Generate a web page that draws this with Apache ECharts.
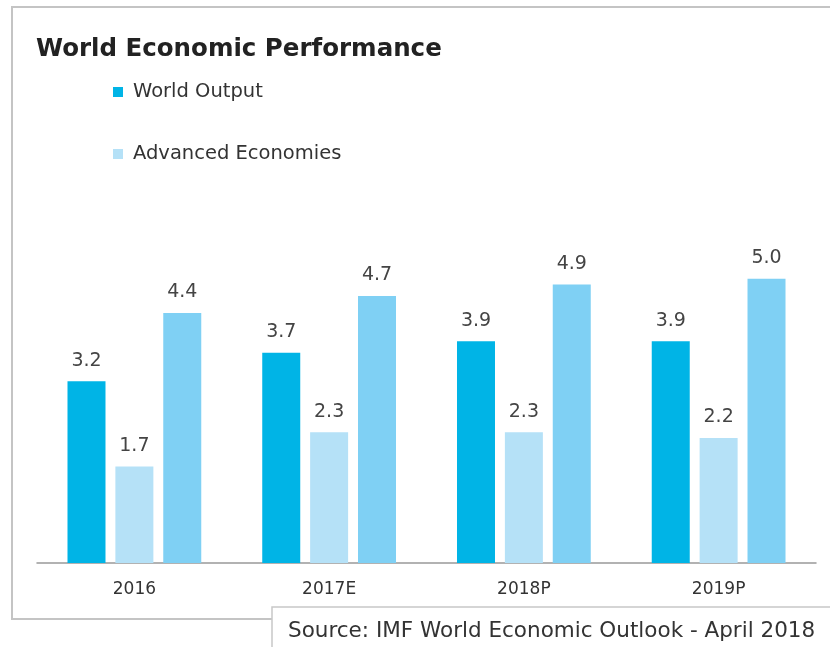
<!DOCTYPE html>
<html>
<head>
<meta charset="utf-8">
<script src="https://cdn.jsdelivr.net/npm/echarts@6/dist/echarts.min.js"></script>
<style>
  html, body { margin: 0; padding: 0; background: #fff; }
  #chart { width: 830px; height: 647px; }
</style>
</head>
<body>
<div id="chart"></div>
<script>
// data
const categories = ['2016', '2017E', '2018P', '2019P'];
const worldOutput = [3.2, 3.7, 3.9, 3.9];
const advancedEconomies = [1.7, 2.3, 2.3, 2.2];
const emergingEconomies = [4.4, 4.7, 4.9, 5.0];

const dom = document.getElementById('chart');
const myChart = echarts.init(dom);

const labelStyle = {
    show: true,
    position: 'top',
    distance: 11,
    color: '#444',
    fontSize: 19,
    fontFamily: 'DejaVu Sans',
    formatter: function (p) { return p.value.toFixed(1); }
};

const legendText = { fontSize: 19.5, color: '#333', fontFamily: 'DejaVu Sans', padding: [0, 0, 0, 5] };

const option = {
    backgroundColor: '#fff',
    animation: false,
    title: {
        text: 'World Economic Performance',
        left: 31,
        top: 32,
        textStyle: { fontSize: 24.5, fontWeight: 'bold', color: '#222', fontFamily: 'DejaVu Sans' }
    },
    legend: [
        {
            data: ['World Output'],
            left: 108, top: 77,
            icon: 'rect', itemWidth: 10, itemHeight: 10, itemGap: 10,
            textStyle: legendText
        },
        {
            data: ['Advanced Economies'],
            left: 108, top: 139,
            icon: 'rect', itemWidth: 10, itemHeight: 10, itemGap: 10,
            textStyle: legendText
        }
    ],
    grid: {
        left: 37,
        right: 14,
        top: 222,
        bottom: 84
    },
    xAxis: {
        type: 'category',
        data: categories,
        axisLine: { lineStyle: { color: '#999', width: 1.5 } },
        axisTick: { show: false },
        axisLabel: { color: '#333', fontSize: 17, margin: 18, fontFamily: 'DejaVu Sans' }
    },
    yAxis: {
        type: 'value',
        min: 0,
        max: 6,
        show: false,
        splitLine: { show: false }
    },
    series: [
        {
            name: 'World Output',
            type: 'bar',
            data: worldOutput,
            barWidth: 38,
            barGap: '26%',
            itemStyle: { color: '#00b4e6' },
            label: labelStyle
        },
        {
            name: 'Advanced Economies',
            type: 'bar',
            data: advancedEconomies,
            barWidth: 38,
            barGap: '26%',
            itemStyle: { color: '#b5e1f7' },
            label: labelStyle
        },
        {
            name: 'Emerging Economies',
            type: 'bar',
            data: emergingEconomies,
            barWidth: 38,
            barGap: '26%',
            itemStyle: { color: '#7fd0f4' },
            label: labelStyle
        }
    ],
    graphic: [
        {
            type: 'rect',
            z: -1,
            shape: { x: 12, y: 7, width: 840, height: 612 },
            style: { fill: 'none', stroke: '#c4c4c4', lineWidth: 2 }
        },
        {
            type: 'rect',
            z: 10,
            shape: { x: 272, y: 607, width: 580, height: 60 },
            style: { fill: '#fff', stroke: '#c8c8c8', lineWidth: 1.5 }
        },
        {
            type: 'text',
            z: 11,
            left: 288,
            top: 620,
            style: {
                text: 'Source: IMF World Economic Outlook - April 2018',
                fill: '#333',
                fontSize: 21.5,
                fontFamily: 'DejaVu Sans'
            }
        }
    ]
};

myChart.setOption(option, true);
window.addEventListener('resize', function() { myChart.resize(); });
</script>
</body>
</html>
